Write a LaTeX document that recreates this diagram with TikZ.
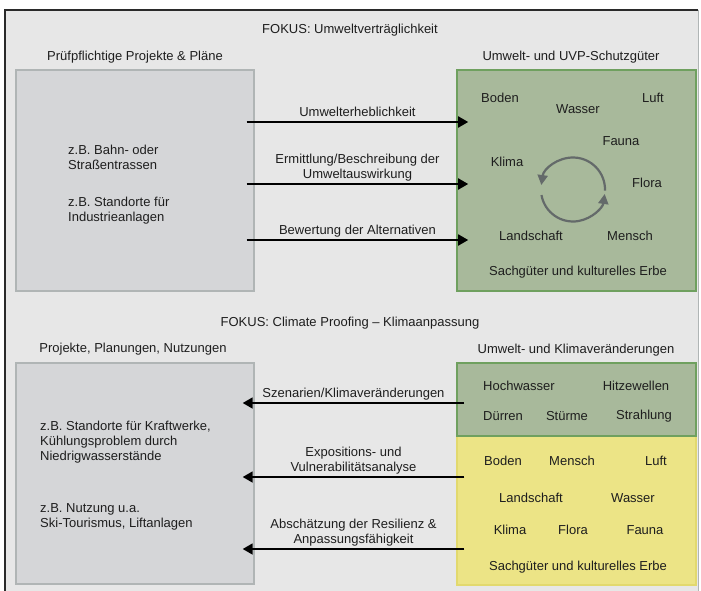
\documentclass[tikz,border=0pt]{standalone}
\usepackage{fontspec}
\setmainfont{Liberation Sans}
\usetikzlibrary{arrows.meta,calc}
\definecolor{bgcol}{HTML}{E7E7E7}
\definecolor{framecol}{HTML}{2A2A2A}
\definecolor{lboxfill}{HTML}{D5D6D8}
\definecolor{lboxline}{HTML}{B0B5B5}
\definecolor{gfill}{HTML}{A8B99B}
\definecolor{gline}{HTML}{6FA05F}
\definecolor{yfill}{HTML}{ECE486}
\definecolor{yline}{HTML}{E2D96E}
\definecolor{cyccol}{HTML}{646A6A}
\definecolor{txtcol}{HTML}{1E1E1E}
\begin{document}
\begin{tikzpicture}[x=1pt,y=-1pt,
  font=\fontsize{13}{15}\selectfont,
  every node/.style={text=txtcol},
  lbox/.style={draw=lboxline, line width=1.4pt, fill=lboxfill, minimum width=238pt, minimum height=221pt, inner sep=0pt},
  gbox/.style={draw=gline, line width=1.6pt, fill=gfill, minimum width=239pt, inner sep=0pt},
  ybox/.style={draw=yline, line width=1.4pt, fill=yfill, minimum width=239pt, inner sep=0pt},
  txt/.style={inner sep=0pt},
  para/.style={inner sep=0pt, anchor=north west, align=left},
  lab/.style={midway, anchor=south, align=center, inner sep=0pt, text depth=3pt, yshift=2pt},
  arr/.style={line width=1.8pt, draw=black, -{Triangle[length=10pt,width=11pt]}},
  cyc/.style={line width=2.2pt, draw=cyccol, -{Triangle[length=10pt,width=10pt]}}
]
\useasboundingbox (0,0) rectangle (701,591);
\fill[white] (0,0) rectangle (701,591);
% outer frame
\fill[bgcol] (5,10) rectangle (698,595);
\draw[lboxline, line width=1pt] (698,10) -- (698,595);
\draw[framecol, line width=2.5pt] (5,595) -- (5,10) -- (698,10);

% titles
\node[txt] (t1) at (350,30) {FOKUS: Umweltverträglichkeit};
\node[txt] (t2) at (350,323) {FOKUS: Climate Proofing – Klimaanpassung};
\node[txt] (h1) at (135,57) {Prüfpflichtige Projekte \& Pläne};
\node[txt] (h2) at (571,57) {Umwelt- und UVP-Schutzgüter};
\node[txt] (h3) at (133,349) {Projekte, Planungen, Nutzungen};
\node[txt] (h4) at (576,350) {Umwelt- und Klimaveränderungen};

% boxes
\node[lbox] (L1) at (135,180.5) {};
\node[gbox, minimum height=221pt] (G1) at (576.5,180.5) {};
\node[lbox] (L2) at (135,473.5) {};
\node[ybox, minimum height=149pt] (Y2) at (576.5,510.5) {};
\node[gbox, minimum height=73pt] (G2) at (576.5,399.5) {};

% left box texts
\node[para] (p1) at (68,145) {z.B. Bahn- oder\\Straßentrassen};
\node[para] (p2) at (68,197) {z.B. Standorte für\\Industrieanlagen};
\node[para] (p3) at (40,421) {z.B. Standorte für Kraftwerke,\\Kühlungsproblem durch\\Niedrigwasserstände};
\node[para] (p4) at (40,503) {z.B. Nutzung u.a.\\Ski-Tourismus, Liftanlagen};

% top green items
\node[txt] (a1) at (500,98) {Boden};
\node[txt] (a2) at (578,109) {Wasser};
\node[txt] (a3) at (653,98) {Luft};
\node[txt] (a4) at (621,141) {Fauna};
\node[txt] (a5) at (507,162) {Klima};
\node[txt] (a6) at (647,183) {Flora};
\node[txt] (a7) at (531,236) {Landschaft};
\node[txt] (a8) at (630,236) {Mensch};
\node[txt] (a9) at (578,272) {Sachgüter und kulturelles Erbe};

% cycle
\coordinate (C) at (573,189.5);
\draw[cyc] ($(C)+(2:32)$) arc[start angle=2, end angle=-172, radius=32];
\draw[cyc] ($(C)+(170:32)$) arc[start angle=170, end angle=8, radius=32];

% bottom green items
\node[txt] (b1) at (519,386) {Hochwasser};
\node[txt] (b2) at (636,386) {Hitzewellen};
\node[txt] (b3) at (503,416) {Dürren};
\node[txt] (b4) at (567,416) {Stürme};
\node[txt] (b5) at (644,416) {Strahlung};

% yellow items
\node[txt] (c1) at (503,461) {Boden};
\node[txt] (c2) at (572,461) {Mensch};
\node[txt] (c3) at (656,461) {Luft};
\node[txt] (c4) at (531,498) {Landschaft};
\node[txt] (c5) at (633,498) {Wasser};
\node[txt] (c6) at (510,530) {Klima};
\node[txt] (c7) at (573,530) {Flora};
\node[txt] (c8) at (645,530) {Fauna};
\node[txt] (c9) at (578,567) {Sachgüter und kulturelles Erbe};

% arrow levels
\coordinate (y1) at (0,122);
\coordinate (y2) at (0,184);
\coordinate (y3) at (0,240);
\coordinate (y4) at (0,403);
\coordinate (y5) at (0,477);
\coordinate (y6) at (0,549);

\draw[arr] ($(L1.east|-y1)+(-8,0)$) -- node[lab] (l1) {Umwelterheblichkeit} ($(G1.west|-y1)+(12,0)$);
\draw[arr] ($(L1.east|-y2)+(-8,0)$) -- node[lab] (l2) {Ermittlung/Beschreibung der\\Umweltauswirkung} ($(G1.west|-y2)+(12,0)$);
\draw[arr] ($(L1.east|-y3)+(-8,0)$) -- node[lab] (l3) {Bewertung der Alternativen} ($(G1.west|-y3)+(12,0)$);

\draw[arr] ($(G2.west|-y4)+(8,0)$) -- node[lab] (l4) {Szenarien/Klimaveränderungen} ($(L2.east|-y4)+(-12,0)$);
\draw[arr] ($(Y2.west|-y5)+(8,0)$) -- node[lab] (l5) {Expositions- und\\Vulnerabilitätsanalyse} ($(L2.east|-y5)+(-12,0)$);
\draw[arr] ($(Y2.west|-y6)+(8,0)$) -- node[lab] (l6) {Abschätzung der Resilienz \&\\Anpassungsfähigkeit} ($(L2.east|-y6)+(-12,0)$);
\end{tikzpicture}
\end{document}
